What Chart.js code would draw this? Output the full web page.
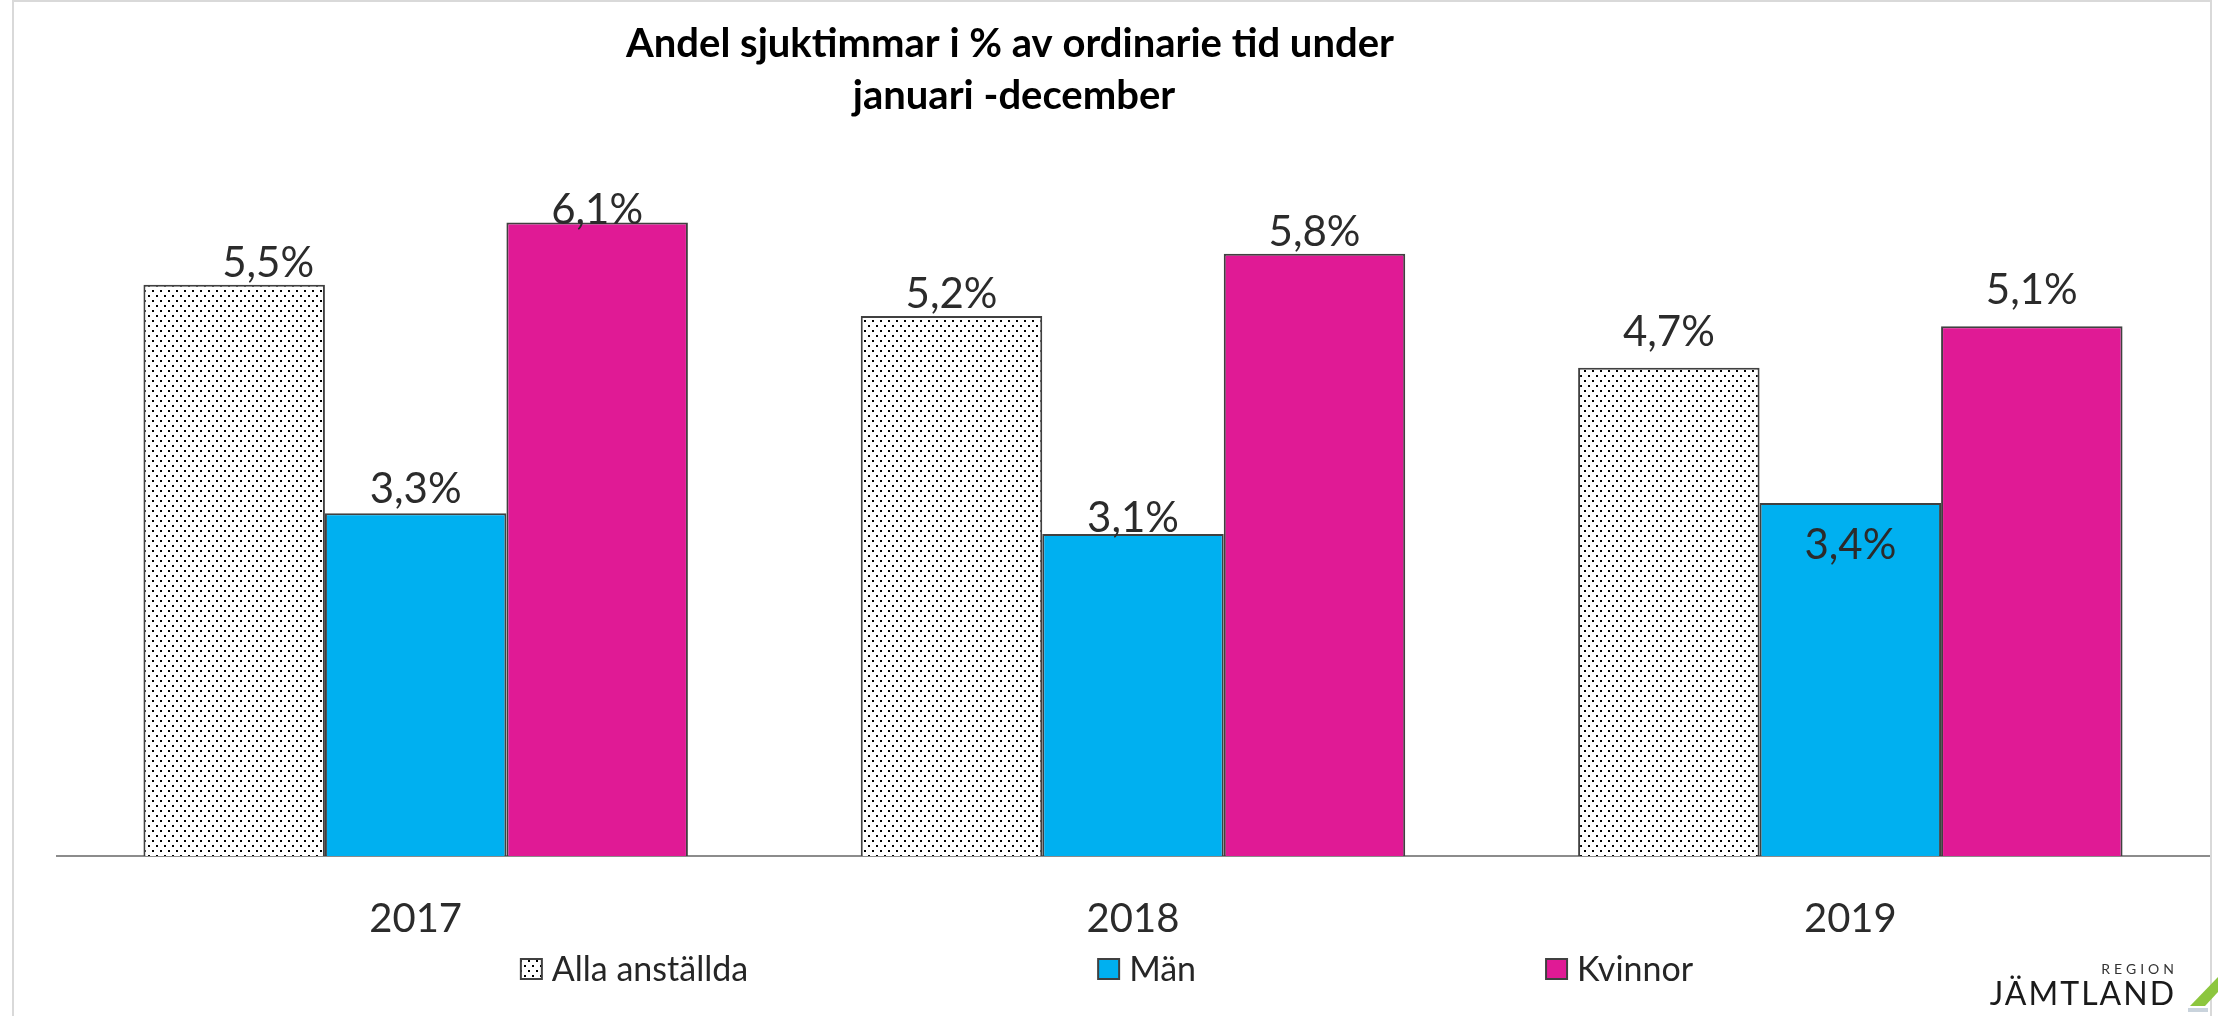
<!DOCTYPE html>
<html>
<head>
<meta charset="utf-8">
<script src="https://cdn.jsdelivr.net/npm/chart.js@4"></script>
<style>
	body { margin: 0; background: #ffffff; overflow: hidden; }
	canvas { display: block; }
</style>
</head>
<body>
<canvas id="myChart" width="2218" height="1016"></canvas>

<script>
	const years = ['2017', '2018', '2019'];
	const seriesNames = ['Alla anställda', 'Män', 'Kvinnor'];
	const allaValues = [5.5, 5.2, 4.7];
	const manValues = [3.3, 3.1, 3.4];
	const kvinnorValues = [6.1, 5.8, 5.1];
	const titleLines = ['Andel sjuktimmar i % av ordinarie tid under', 'januari -december'];

	// the labels were dragged by hand in the original, so a few get moved (dx, dy in px)
	const labelNudge = [
		[[34, 0], [0, 0], [0, -14]],
		[[0, -2], [0, 6], [0, 64]],
		[[0, 10], [0, 0], [0, -14]]
	];

	function dotPattern() {
		var tile = document.createElement('canvas');
		tile.width = 8;
		tile.height = 10;
		var g = tile.getContext('2d');
		g.fillStyle = '#ffffff';
		g.fillRect(0, 0, 8, 10);
		g.fillStyle = '#000000';
		g.fillRect(0, 0, 2, 2);
		g.fillRect(4, 5, 2, 2);
		return g.createPattern(tile, 'repeat');
	}

	function fmt(v) {
		return v.toFixed(1).replace('.', ',') + '%';
	}

	const framePlugin = {
		id: 'frame',
		beforeDraw(chart) {
			var ctx = chart.ctx;
			ctx.save();
			ctx.strokeStyle = '#d9d9d9';
			ctx.lineWidth = 2;
			ctx.beginPath();
			ctx.moveTo(13, chart.height);
			ctx.lineTo(13, 1);
			ctx.lineTo(2211, 1);
			ctx.lineTo(2211, chart.height);
			ctx.stroke();

			ctx.fillStyle = '#000000';
			ctx.font = 'bold 40px Lato';
			ctx.textAlign = 'center';
			ctx.textBaseline = 'alphabetic';
			ctx.fillText(titleLines[0], 1010, 57);
			ctx.fillText(titleLines[1], 1014, 109);
			ctx.restore();
		}
	};

	const valueLabels = {
		id: 'valueLabels',
		afterDatasetsDraw(chart) {
			var ctx = chart.ctx;
			ctx.save();
			ctx.font = '42px Lato';
			ctx.fillStyle = '#2b2b2b';
			ctx.textAlign = 'center';
			ctx.textBaseline = 'alphabetic';
			chart.data.datasets.forEach(function (ds, i) {
				chart.getDatasetMeta(i).data.forEach(function (bar, j) {
					var n = labelNudge[i][j];
					ctx.fillText(fmt(ds.data[j]), bar.x + n[0], bar.y - 8 + n[1]);
				});
			});
			ctx.restore();
		}
	};

	const bottomLegend = {
		id: 'bottomLegend',
		afterDraw(chart) {
			var ctx = chart.ctx;
			ctx.save();
			ctx.font = '34px Lato';
			var box = 21, gap = 10, spacing = 350, y = 969;
			var items = chart.data.datasets.map(function (ds) {
				return { ds: ds, w: box + gap + ctx.measureText(ds.label).width };
			});
			var total = spacing * (items.length - 1);
			items.forEach(function (it) { total += it.w; });
			var x = 1107 - total / 2;
			items.forEach(function (it) {
				ctx.fillStyle = it.ds.backgroundColor;
				ctx.fillRect(x, y - 10, box, 20);
				ctx.strokeStyle = '#404040';
				ctx.lineWidth = 2;
				ctx.strokeRect(x, y - 10, box, 20);
				ctx.fillStyle = '#262626';
				ctx.textAlign = 'left';
				ctx.textBaseline = 'middle';
				ctx.fillText(it.ds.label, x + box + gap, y + 1);
				x += it.w + spacing;
			});

			// Region Jämtland logo
			ctx.textAlign = 'right';
			ctx.textBaseline = 'alphabetic';
			ctx.fillStyle = '#333333';
			ctx.font = '14px Lato';
			ctx.letterSpacing = '4px';
			ctx.fillText('REGION', 2178, 974);
			ctx.fillStyle = '#1a1a1a';
			ctx.font = '32px Lato';
			ctx.letterSpacing = '2px';
			ctx.fillText('JÄMTLAND', 2176, 1005);
			ctx.letterSpacing = '0px';
			ctx.fillStyle = '#8cc63e';
			ctx.beginPath();
			ctx.moveTo(2190, 1006);
			ctx.lineTo(2205, 1006);
			ctx.lineTo(2218, 992);
			ctx.lineTo(2218, 977);
			ctx.closePath();
			ctx.fill();
			ctx.fillStyle = '#c9d3dc';
			ctx.fillRect(2188, 1008, 20, 4);
			ctx.restore();
		}
	};

	function createChart() {
		var ctx = document.getElementById('myChart').getContext('2d');
		new Chart(ctx, {
			type: 'bar',
			data: {
				labels: years,
				datasets: [{
					label: seriesNames[0],
					data: allaValues,
					backgroundColor: dotPattern(),
					borderColor: '#404040',
					borderWidth: 2
				}, {
					label: seriesNames[1],
					data: manValues,
					backgroundColor: '#00b0f0',
					borderColor: '#404040',
					borderWidth: 2
				}, {
					label: seriesNames[2],
					data: kvinnorValues,
					backgroundColor: '#e01a95',
					borderColor: '#404040',
					borderWidth: 2
				}]
			},
			options: {
				responsive: false,
				animation: false,
				categoryPercentage: 0.759,
				barPercentage: 1.0,
				layout: {
					padding: { top: 129, left: 57, right: 9, bottom: 34 }
				},
				plugins: {
					legend: { display: false },
					title: { display: false },
					tooltip: { enabled: false }
				},
				scales: {
					x: {
						grid: { display: false, drawTicks: false },
						border: { display: true, color: '#8c8c8c', width: 2 },
						ticks: {
							padding: 39,
							color: '#2b2b2b',
							font: { family: 'Lato', size: 40 }
						}
					},
					y: {
						display: false,
						min: 0,
						max: 7
					}
				}
			},
			plugins: [framePlugin, valueLabels, bottomLegend]
		});
	}

	Promise.all([
		document.fonts.load('40px Lato'),
		document.fonts.load('bold 40px Lato')
	]).then(createChart, createChart);
</script>
</body>
</html>
